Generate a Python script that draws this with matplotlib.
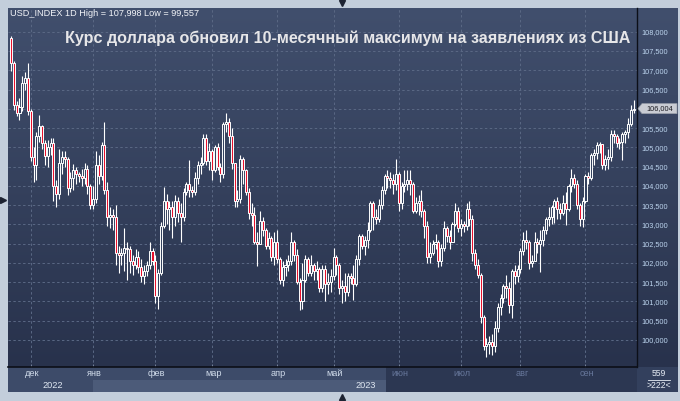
import matplotlib
matplotlib.use('Agg')
import matplotlib.pyplot as plt
import numpy as np
from matplotlib.patches import Rectangle, Polygon
from matplotlib.lines import Line2D
from matplotlib import transforms

plt.rcParams['font.family'] = ['Liberation Sans', 'DejaVu Sans']

# ---------------- data (daily bars, 22 Nov 2022 - 26 Sep 2023) ----------------
first_open = 107.83
closes = [
    107.18, 106.10, 105.90, 106.05, 106.68, 106.80, 105.95,
    104.75, 104.55, 105.30, 105.55, 105.12, 104.78, 105.00, 105.12, 104.00, 103.80, 104.60,
    104.75, 104.70, 103.95, 104.20, 104.40, 104.30, 104.25, 104.20, 104.45, 104.00, 103.50,
    103.65, 104.55, 104.25, 105.05, 103.90, 103.20, 103.25, 103.20, 102.25, 102.20, 102.25,
    102.40, 102.35, 102.05, 101.95, 102.15, 101.90, 101.65, 101.80, 101.95, 102.30, 102.05,
    101.15, 101.75, 102.95, 103.60, 103.40, 103.45, 103.20, 103.60, 103.30, 103.20, 103.85,
    104.05, 103.90, 103.85, 104.20, 104.55, 104.60, 105.25, 104.65, 104.90,
    104.40, 105.00, 104.50, 104.30, 105.60, 105.65, 105.30, 104.60, 103.60, 103.65, 104.70,
    104.40, 103.85, 103.30, 103.25, 102.55, 102.50, 103.10, 102.85, 102.45, 102.65, 102.15, 102.55,
    102.10, 101.55, 101.90, 101.95, 102.05, 102.55, 102.20, 101.50, 101.00, 101.55, 102.10,
    101.75, 101.95, 101.80, 101.85, 101.35, 101.85, 101.45, 101.50, 101.65,
    102.15, 101.95, 101.35, 101.40, 101.25, 101.65, 101.60, 101.45, 102.10, 102.70, 102.45,
    102.60, 102.85, 103.55, 103.20, 103.15, 103.50, 103.90, 104.25, 104.20, 104.15, 104.05, 104.30,
    103.55, 104.00, 104.05, 104.15, 104.05, 103.35, 103.55, 103.60, 103.35, 102.95, 102.15,
    102.25, 102.50, 102.55, 102.05, 102.40, 102.90, 102.70, 102.55, 103.00, 103.35, 102.90,
    103.00, 102.95, 103.40, 103.15, 102.25, 101.95, 101.70, 100.60, 99.85, 99.90, 99.95,
    99.85, 100.30, 100.85, 101.10, 101.40, 101.35, 100.90, 101.80, 101.65, 101.85,
    102.30, 102.60, 102.55, 102.00, 102.05, 102.55, 102.50, 102.60, 102.85, 103.15, 103.20,
    103.45, 103.60, 103.40, 103.30, 103.55, 103.40, 104.00, 104.20, 104.05, 103.50, 103.15, 103.60,
    104.25, 104.20, 104.80, 104.85, 105.05, 105.08, 104.55, 104.70, 104.75, 105.35, 105.30,
    105.10, 105.15, 105.35, 105.40, 105.60, 105.98, 106.004,
]
highs = [
    107.90, 107.25, 106.20, 106.28, 106.85, 106.95, 107.20,
    106.00, 105.00, 105.40, 105.85, 105.58, 105.20, 105.20, 105.25, 105.25, 104.15, 104.95,
    104.90, 104.90, 104.75, 104.35, 104.58, 104.50, 104.35, 104.45, 104.60, 104.55, 104.05,
    104.00, 104.90, 104.80, 105.15, 105.65, 104.10, 103.45, 103.40, 103.50, 102.45, 102.40,
    102.90, 102.55, 102.45, 102.20, 102.35, 102.30, 102.10, 101.95, 102.05, 102.55, 102.40,
    102.20, 101.85, 103.05, 103.96, 103.80, 103.60, 103.60, 103.75, 103.70, 103.55, 103.95,
    104.10, 104.68, 104.00, 104.35, 104.65, 104.75, 105.35, 105.35, 105.10,
    104.95, 105.05, 105.10, 104.60, 105.65, 105.88, 105.75, 105.50, 104.35, 103.90, 104.80,
    104.75, 104.45, 103.95, 103.55, 103.45, 102.80, 103.35, 103.20, 102.90, 102.80, 102.70, 102.80,
    102.85, 102.15, 102.05, 102.10, 102.20, 102.80, 102.60, 102.35, 101.60, 102.00, 102.20,
    102.15, 102.20, 102.00, 102.05, 101.90, 101.95, 101.95, 101.75, 101.85,
    102.40, 102.20, 102.00, 101.55, 101.75, 101.75, 101.75, 101.95, 102.20, 102.75, 102.75,
    102.70, 103.05, 103.60, 103.60, 103.40, 103.65, 104.00, 104.30, 104.40, 104.35, 104.30, 104.70,
    104.35, 104.10, 104.40, 104.40, 104.42, 104.10, 103.70, 103.75, 103.90, 103.40, 103.10,
    102.55, 102.60, 102.75, 102.60, 102.50, 103.10, 102.95, 102.85, 103.05, 103.55, 103.45,
    103.15, 103.10, 103.55, 103.60, 103.25, 102.35, 102.10, 101.75, 100.65, 100.05, 100.10,
    100.15, 100.50, 100.95, 101.20, 101.45, 101.70, 101.50, 101.85, 101.95, 101.95,
    102.40, 102.80, 102.85, 102.60, 102.20, 102.80, 102.65, 102.85, 102.95, 103.20, 103.45,
    103.50, 103.65, 103.70, 103.55, 103.75, 103.85, 104.05, 104.45, 104.30, 104.15, 103.55, 103.70,
    104.30, 104.35, 104.85, 104.95, 105.15, 105.15, 104.95, 104.80, 104.95, 105.45, 105.45,
    105.35, 105.25, 105.40, 105.45, 105.75, 106.10, 106.22,
]
lows = [
    106.97, 105.98, 105.82, 105.70, 105.95, 106.50, 105.85,
    104.65, 104.10, 104.15, 105.15, 104.95, 104.55, 104.50, 104.80, 103.60, 103.45, 103.65,
    104.30, 104.50, 103.75, 103.85, 103.90, 104.05, 104.10, 104.00, 104.05, 103.80, 103.40,
    103.40, 103.55, 104.05, 104.15, 103.80, 102.95, 102.90, 102.85, 101.95, 101.75, 101.95,
    101.80, 101.55, 101.75, 101.70, 101.85, 101.75, 101.50, 101.45, 101.65, 101.85, 101.95,
    100.95, 100.80, 101.70, 102.90, 103.00, 102.85, 102.65, 102.95, 103.05, 102.55, 103.10,
    103.75, 103.70, 103.70, 103.75, 104.05, 104.30, 104.55, 104.55, 104.40,
    104.15, 104.35, 104.40, 104.10, 104.20, 105.40, 105.10, 104.45, 103.45, 103.45, 103.55,
    104.05, 103.75, 103.15, 102.95, 102.50, 101.92, 102.50, 102.70, 102.35, 102.35, 102.05, 101.95,
    102.00, 101.45, 101.40, 101.65, 101.80, 101.95, 102.05, 101.45, 100.78, 100.80, 101.50,
    101.65, 101.65, 101.55, 101.55, 101.25, 101.25, 101.00, 101.20, 101.25,
    101.55, 101.70, 101.20, 100.95, 101.00, 101.15, 101.45, 101.05, 101.40, 101.95, 102.35,
    102.20, 102.40, 102.80, 102.85, 103.00, 103.05, 103.40, 103.80, 103.95, 103.95, 103.80, 103.90,
    103.35, 103.40, 103.85, 103.90, 103.75, 103.30, 103.30, 103.25, 103.20, 102.65, 102.00,
    102.00, 102.20, 102.35, 101.90, 101.92, 102.30, 102.55, 102.35, 102.55, 102.95, 102.80,
    102.70, 102.80, 102.85, 102.95, 102.05, 101.85, 101.60, 100.45, 99.75, 99.56, 99.65,
    99.60, 99.70, 100.20, 100.65, 100.95, 101.10, 100.70, 100.56, 101.45, 101.50,
    101.75, 102.20, 102.35, 101.85, 101.90, 102.10, 102.25, 101.77, 102.45, 102.75, 102.95,
    103.00, 103.03, 103.15, 103.15, 103.25, 102.98, 103.35, 103.85, 103.95, 103.40, 102.95, 102.94,
    103.55, 104.05, 104.15, 104.55, 104.70, 104.85, 104.45, 104.40, 104.45, 104.65, 105.10,
    105.00, 104.95, 104.67, 105.10, 105.25, 105.55, 105.90,
]
month_labels = ['дек', 'янв', 'фев', 'мар', 'апр', 'май', 'июн', 'июл', 'авг', 'сен']
month_start_idx = [7, 29, 51, 71, 94, 114, 137, 159, 180, 203]
price_ticks = [100.0, 100.5, 101.0, 101.5, 102.0, 102.5, 103.0, 103.5, 104.0,
               104.5, 105.0, 105.5, 106.0, 106.5, 107.0, 107.5, 108.0]
title = 'Курс доллара обновил 10-месячный максимум на заявлениях из США'
info = 'USD_INDEX 1D High = 107,998 Low = 99,557'
last_price_label = '106,004'

# ---------------- figure ----------------
W, H = 680, 401
fig = plt.figure(figsize=(W / 100, H / 100), dpi=100)
fig.patch.set_facecolor('#c3cedb')


def fr(x0, y0, x1, y1):
    """pixel box (top-left origin) -> figure fraction rect"""
    return [x0 / W, 1 - y1 / H, (x1 - x0) / W, (y1 - y0) / H]


def prect(x0, y0, x1, y1, color, z=-1):
    fig.add_artist(Rectangle((x0 / W, 1 - y1 / H), (x1 - x0) / W, (y1 - y0) / H,
                             transform=fig.transFigure, facecolor=color,
                             edgecolor='none', zorder=z))


# gradient background for plot + price scale
bg = fig.add_axes(fr(8, 8, 678, 367))
bg.set_zorder(-2)
grad = np.linspace(0, 1, 256).reshape(-1, 1)
top = np.array([0x41, 0x4f, 0x6d]) / 255
bot = np.array([0x28, 0x32, 0x4c]) / 255
img = top[None, None, :] * (1 - grad[..., None]) + bot[None, None, :] * grad[..., None]
bg.imshow(img, aspect='auto', extent=[0, 1, 0, 1], origin='upper')
bg.set_axis_off()

# bottom time strip
prect(8, 367, 637, 380, '#3d4b69')
prect(8, 380, 93, 392, '#3d4b69')
prect(93, 380, 386, 392, '#4c5b79')
prect(386, 367, 637, 392, '#2c3752')
prect(637, 367, 678, 392, '#33405d')

# main axes
ax = fig.add_axes(fr(8, 8, 637, 367))
ax.patch.set_alpha(0)
xmin, xmax = -1.06, 221.2
ymin, ymax = 99.30, 108.615
ax.set_xlim(xmin, xmax)
ax.set_ylim(ymin, ymax)
for s in ['top', 'left']:
    ax.spines[s].set_visible(False)
ax.spines['right'].set_color('#0c0f18')
ax.spines['right'].set_linewidth(1.0)
ax.spines['bottom'].set_color('#0c0f18')
ax.spines['bottom'].set_linewidth(1.2)

ax.yaxis.tick_right()
ax.set_yticks(price_ticks)
# the 106,000 label is hidden behind the last-price tag in the original
ax.set_yticklabels(['' if abs(v - 106.0) < 1e-9 else f'{v:.3f}'.replace('.', ',')
                    for v in price_ticks])
ax.tick_params(axis='y', length=0, pad=3, labelsize=5.3, labelcolor='#bcd4ee')
ax.set_xticks(month_start_idx)
ax.set_xticklabels([])
ax.tick_params(axis='x', direction='in', length=2.5, color='#7d8aa3', width=0.6)
ax.grid(True, color='#5a6884', linestyle=(0, (2.5, 2.5)), linewidth=0.7)
ax.set_axisbelow(True)

# candles
o = np.array([first_open] + closes[:-1])
c = np.array(closes)
h = np.maximum(np.array(highs), np.maximum(o, c))
l = np.minimum(np.array(lows), np.minimum(o, c))
x = np.arange(len(c))
up = c >= o
ax.vlines(x, l, h, color='white', linewidth=0.8, zorder=3)
bb = np.minimum(o, c)
bh = np.maximum(np.abs(c - o), 0.015)
ax.bar(x[up], bh[up], bottom=bb[up], width=0.72, color='#34425f',
       edgecolor='white', linewidth=0.7, zorder=4)
ax.bar(x[~up], bh[~up], bottom=bb[~up], width=0.72, color='#e8102c',
       edgecolor='white', linewidth=0.7, zorder=4)

# title & info
fig.text(630 / W, 1 - 38 / H, title, ha='right', va='center', fontsize=11.6,
         fontweight='bold', color='#e6e6e8', zorder=6)
fig.text(10 / W, 1 - 14 / H, info, ha='left', va='center', fontsize=6.6,
         color='#f2f4f8', zorder=6)

# month labels
bt = transforms.blended_transform_factory(ax.transData, fig.transFigure)
for lab, idx in zip(month_labels, month_start_idx):
    col = '#d0dbea' if idx < 130 else '#66769a'
    ax.text(idx + 0.5, 1 - 374 / H, lab, transform=bt, ha='center', va='center',
            fontsize=6.6, color=col, clip_on=False, zorder=10)
fig.text(53 / W, 1 - 386 / H, '2022', ha='center', va='center', fontsize=6.6, color='#e0e8f2')
fig.text(366 / W, 1 - 386 / H, '2023', ha='center', va='center', fontsize=6.6, color='#e0e8f2')

# bar counter box
fig.text(659 / W, 1 - 374 / H, '559', ha='center', va='center', fontsize=6.2, color='#e8eef6')
fig.add_artist(Line2D([648 / W, 670 / W], [1 - 380 / H, 1 - 380 / H], transform=fig.transFigure,
                      color='#e8eef6', linewidth=0.6))
fig.text(659 / W, 1 - 386 / H, '>222<', ha='center', va='center', fontsize=6.2, color='#e8eef6')

# last price tag
py = 31.7 + (108 - closes[-1]) * 38.54
tag = Polygon([(638 / W, 1 - py / H), (642 / W, 1 - (py - 5) / H), (677 / W, 1 - (py - 5) / H),
               (677 / W, 1 - (py + 5) / H), (642 / W, 1 - (py + 5) / H)],
              closed=True, transform=fig.transFigure, facecolor='#c9ccd3',
              edgecolor='#9aa0aa', linewidth=0.5, zorder=7)
fig.add_artist(tag)
fig.text(659.5 / W, 1 - py / H, last_price_label, ha='center', va='center', fontsize=5.3,
         color='#1c1c22', zorder=8)

# small navigation triangles on the frame
for (tx, ty, m) in [(342, 3, 'v'), (342, 397, '^'), (3, 200, '>')]:
    fig.add_artist(Line2D([tx / W], [1 - ty / H], marker=m, markersize=4.5, color='#1d2332',
                          linestyle='none', transform=fig.transFigure))

fig.savefig('out.png', dpi=100, facecolor=fig.get_facecolor())
